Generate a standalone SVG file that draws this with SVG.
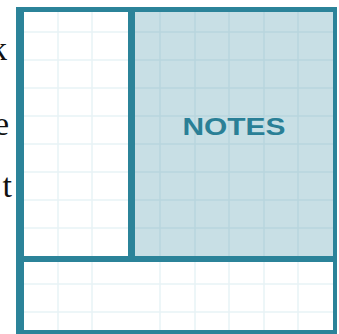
<svg xmlns="http://www.w3.org/2000/svg" width="339" height="334" viewBox="0 0 339 334">
<style>
.frame{fill:#2b8399}
.gw{stroke:#e8f3f6;stroke-width:1.5}
.gn{stroke:#b8d6de;stroke-width:1.5}
.side{font-family:"Liberation Serif","Times New Roman",serif;font-size:34px;fill:#111;text-anchor:end}
.lbl{font-family:"Liberation Sans",Arial,sans-serif;font-weight:bold;font-size:24px;fill:#2a7f96;text-anchor:middle}
</style>
<rect width="339" height="334" fill="#fff"/>
<g id="side-text">
<text class="side" x="7" y="60">k</text>
<text class="side" x="9" y="135">e</text>
<text class="side" x="12" y="197">t</text>
</g>
<g id="grid-white">
<path class="gw" d="M58 11V330M92 11V330M160 256V330M195 256V330M229 256V330M264 256V330M298 256V330M24 32H128M24 60H128M24 88H128M24 116H128M24 144H128M24 172H128M24 200H128M24 228H128M24 284H333M24 312H333"/>
</g>
<g id="notes">
<rect x="135" y="11" width="198" height="245" fill="#c8dfe5"/>
<path class="gn" d="M160 11V256M195 11V256M229 11V256M264 11V256M298 11V256M135 32H333M135 60H333M135 88H333M135 116H333M135 144H333M135 172H333M135 200H333M135 228H333"/>
<text class="lbl" x="234" y="135" textLength="103" lengthAdjust="spacingAndGlyphs">NOTES</text>
</g>
<g id="frame">
<rect class="frame" x="16" y="7" width="321" height="5"/>
<rect class="frame" x="16" y="7" width="8" height="327"/>
<rect class="frame" x="333" y="7" width="4" height="327"/>
<rect class="frame" x="16" y="330" width="321" height="4"/>
<rect class="frame" x="128" y="7" width="7" height="255"/>
<rect class="frame" x="16" y="256" width="321" height="6"/>
</g>
</svg>
